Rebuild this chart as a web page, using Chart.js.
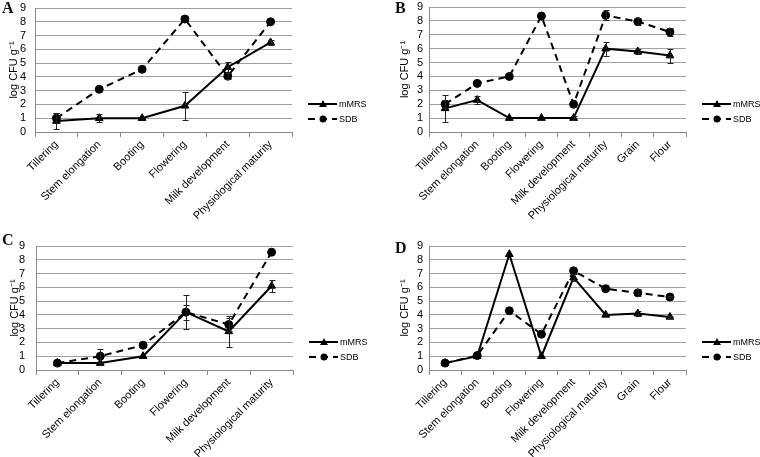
<!DOCTYPE html>
<html>
<head>
<meta charset="utf-8">
<script src="https://cdn.jsdelivr.net/npm/chart.js@4/dist/chart.umd.min.js"></script>
<style>
  html, body { margin: 0; padding: 0; background: #fff; }
  #page { position: relative; width: 760px; height: 457px; overflow: hidden; }
  .panel { position: absolute; width: 380px; height: 228px; }
  .panel canvas { width: 380px; height: 228px; }
  .tag { position: absolute; font: bold 16px/16px "Liberation Serif", "DejaVu Serif", serif; color: #111; }
</style>
</head>
<body>
<div id="page">
  <div class="panel" style="left:0;top:0"><canvas id="cA" width="380" height="228"></canvas></div>
  <div class="panel" style="left:380px;top:0"><canvas id="cB" width="380" height="228"></canvas></div>
  <div class="panel" style="left:0;top:229px"><canvas id="cC" width="380" height="228"></canvas></div>
  <div class="panel" style="left:380px;top:229px"><canvas id="cD" width="380" height="228"></canvas></div>
  <div class="tag" style="left:2px;top:0px">A</div>
  <div class="tag" style="left:395px;top:0px">B</div>
  <div class="tag" style="left:2px;top:232px">C</div>
  <div class="tag" style="left:395px;top:240px">D</div>
</div>
<script>
// ---- data ----
var stagesShort = ['Tillering', 'Stem elongation', 'Booting', 'Flowering', 'Milk development', 'Physiological maturity'];
var stagesLong = ['Tillering', 'Stem elongation', 'Booting', 'Flowering', 'Milk development', 'Physiological maturity', 'Grain', 'Flour'];
var seriesNames = ['mMRS', 'SDB'];
var yTickValues = [0, 1, 2, 3, 4, 5, 6, 7, 8, 9];

// A
var mmrsA = [0.8, 1.0, 1.0, 1.9, 4.7, 6.5];
var mmrsErrA = [0.55, 0.3, 0, 1.0, 0.4, 0.2];
var sdbA = [1.0, 3.1, 4.55, 8.2, 4.05, 8.0];
var sdbErrA = [0.35, 0, 0, 0, 0.2, 0];
// B
var mmrsB = [1.7, 2.3, 1.0, 1.0, 1.0, 6.0, 5.8, 5.5];
var mmrsErrB = [1.0, 0.3, 0, 0, 0.15, 0.5, 0.15, 0.5];
var sdbB = [2.0, 3.5, 4.0, 8.35, 2.0, 8.4, 7.95, 7.2];
var sdbErrB = [0.3, 0, 0, 0, 0, 0.35, 0.25, 0.3];
// C
var mmrsC = [0.5, 0.5, 1.0, 4.2, 2.8, 6.1];
var mmrsErrC = [0, 0, 0, 1.25, 1.1, 0.45];
var sdbC = [0.5, 1.0, 1.8, 4.2, 3.3, 8.55];
var sdbErrC = [0, 0.5, 0, 0.55, 0.5, 0];
// D
var mmrsD = [0.5, 1.0, 8.4, 1.0, 6.7, 4.0, 4.1, 3.85];
var mmrsErrD = [0, 0, 0, 0, 0.25, 0, 0.15, 0.1];
var sdbD = [0.5, 1.05, 4.3, 2.6, 7.2, 5.9, 5.6, 5.3];
var sdbErrD = [0, 0, 0, 0, 0, 0, 0.25, 0.1];

var FONT = '"Liberation Sans", Arial, sans-serif';

// error bars from the errors array attached to each dataset
var errorBars = {
  id: 'errorBars',
  afterDatasetsDraw: function(chart) {
    var ctx = chart.ctx, y = chart.scales.y;
    ctx.save();
    ctx.strokeStyle = '#222';
    ctx.lineWidth = 1;
    chart.data.datasets.forEach(function(ds, i) {
      var meta = chart.getDatasetMeta(i);
      meta.data.forEach(function(pt, j) {
        var e = ds.errors[j];
        if (!e) return;
        var top = Math.round(y.getPixelForValue(ds.data[j] + e)) + 0.5;
        var bot = Math.round(y.getPixelForValue(ds.data[j] - e)) + 0.5;
        var x = Math.round(pt.x) + 0.5;
        ctx.beginPath();
        ctx.moveTo(x, top); ctx.lineTo(x, bot);
        ctx.moveTo(x - 3, top); ctx.lineTo(x + 3, top);
        ctx.moveTo(x - 3, bot); ctx.lineTo(x + 3, bot);
        ctx.stroke();
      });
    });
    ctx.restore();
  }
};

// legend drawn to the right of the plot, line + marker + label
var sideLegend = {
  id: 'sideLegend',
  afterDraw: function(chart, args, opts) {
    var ctx = chart.ctx;
    ctx.save();
    chart.data.datasets.forEach(function(ds, i) {
      var x0 = chart.chartArea.right + opts.gap;
      var yy = opts.top + i * 15;
      ctx.strokeStyle = '#000';
      ctx.lineWidth = 2;
      ctx.setLineDash(ds.borderDash || []);
      ctx.beginPath();
      ctx.moveTo(x0, yy); ctx.lineTo(x0 + 29, yy);
      ctx.stroke();
      ctx.setLineDash([]);
      ctx.fillStyle = '#000';
      ctx.beginPath();
      if (ds.pointStyle === 'triangle') {
        ctx.moveTo(x0 + 15, yy - 4); ctx.lineTo(x0 + 19, yy + 3); ctx.lineTo(x0 + 11, yy + 3);
      } else {
        ctx.arc(x0 + 15, yy, 3.5, 0, Math.PI * 2);
      }
      ctx.fill();
      ctx.font = '9px ' + FONT;
      ctx.textBaseline = 'middle';
      ctx.fillText(ds.label, x0 + 31, yy + 1);
    });
    ctx.restore();
  }
};

function makePanel(id, labels, mmrs, mmrsErr, sdb, sdbErr, box) {
  var ctx = document.getElementById(id).getContext('2d');
  new Chart(ctx, {
    type: 'line',
    data: {
      labels: labels,
      datasets: [
        {
          label: seriesNames[0], data: mmrs, errors: mmrsErr,
          borderColor: '#000', backgroundColor: '#000', borderWidth: 2,
          pointStyle: 'triangle', pointRadius: 4.5, pointBorderWidth: 1, tension: 0
        },
        {
          label: seriesNames[1], data: sdb, errors: sdbErr,
          borderColor: '#000', backgroundColor: '#000', borderWidth: 2,
          borderDash: [7, 5], pointStyle: 'circle', pointRadius: 4, pointBorderWidth: 1, tension: 0
        }
      ]
    },
    options: {
      responsive: false,
      animation: false,
      layout: { padding: { top: box.top, right: box.right, left: 0, bottom: 0 } },
      plugins: {
        legend: { display: false },
        tooltip: { enabled: false },
        sideLegend: { gap: 16, top: box.legTop }
      },
      scales: {
        x: {
          offset: true,
          grid: { display: true, offset: true, drawOnChartArea: false, drawTicks: true, tickLength: 5, color: '#888' },
          border: { color: '#888', width: 1 },
          ticks: { minRotation: 45, maxRotation: 45, padding: 1, autoSkip: false, color: '#000', font: { family: FONT, size: 11 } },
          afterFit: function(s) { s.height = box.xh; s.paddingLeft = 0; s.paddingRight = 0; }
        },
        y: {
          min: 0, max: 9,
          afterBuildTicks: function(s) { s.ticks = yTickValues.map(function(v) { return { value: v }; }); },
          grid: { color: '#a0a0a0', drawTicks: false },
          border: { color: '#888', width: 1 },
          ticks: { padding: box.tickPad, autoSkip: false, color: '#000', font: { family: FONT, size: 11 } },
          title: { display: true, text: 'log CFU g\u207B\u00B9', color: '#000', font: { family: FONT, size: 11 }, padding: { top: box.titlePad, bottom: 0 } },
          afterFit: function(s) { s.width = box.yw; s.paddingTop = 0; s.paddingBottom = 0; }
        }
      }
    },
    plugins: [errorBars, sideLegend]
  });
}

makePanel('cA', stagesShort, mmrsA, mmrsErrA, sdbA, sdbErrA, { top: 8, right: 88, xh: 96, yw: 35, tickPad: 9, titlePad: 7, legTop: 104 });
makePanel('cB', stagesLong, mmrsB, mmrsErrB, sdbB, sdbErrB, { top: 7, right: 74, xh: 96, yw: 49, tickPad: 6, titlePad: 18, legTop: 104 });
makePanel('cC', stagesShort, mmrsC, mmrsErrC, sdbC, sdbErrC, { top: 17, right: 87, xh: 87, yw: 36, tickPad: 11, titlePad: 8, legTop: 113 });
makePanel('cD', stagesLong, mmrsD, mmrsErrD, sdbD, sdbErrD, { top: 17, right: 74, xh: 87, yw: 49, tickPad: 6, titlePad: 18, legTop: 113 });
</script>
</body>
</html>
